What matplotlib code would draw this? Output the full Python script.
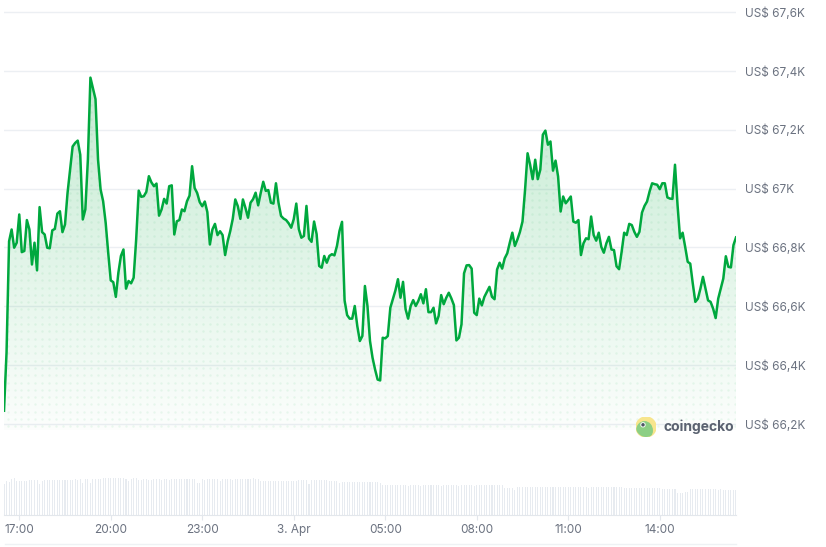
import numpy as np
import pandas as pd
import matplotlib
matplotlib.use("Agg")
import matplotlib.pyplot as plt
import matplotlib.dates as mdates
from matplotlib.patches import Circle, Ellipse

plt.rcParams['font.family'] = ['Inter', 'DejaVu Sans']

# BTC price in thousand USD, 5-minute steps over 24 h
prices = [
    66.245, 66.443, 66.821, 66.861, 66.799, 66.816, 66.912, 66.784, 66.788, 66.893,
    66.861, 66.742, 66.816, 66.722, 66.937, 66.852, 66.844, 66.799, 66.797, 66.858,
    66.863, 66.915, 66.923, 66.852, 66.878, 66.985, 67.064, 67.143, 67.155, 67.163,
    67.115, 66.895, 66.929, 67.098, 67.377, 67.341, 67.304, 67.098, 66.997, 66.957,
    66.884, 66.782, 66.688, 66.682, 66.632, 66.714, 66.771, 66.793, 66.660, 66.686,
    66.678, 66.697, 66.827, 66.993, 66.972, 66.974, 66.989, 67.042, 67.021, 67.008,
    67.017, 66.908, 66.929, 66.965, 66.949, 67.008, 67.011, 66.844, 66.889, 66.893,
    66.929, 66.923, 66.957, 66.976, 67.076, 67.002, 66.985, 66.954, 66.940, 66.956,
    66.920, 66.810, 66.861, 66.880, 66.842, 66.855, 66.842, 66.774, 66.821, 66.855,
    66.897, 66.963, 66.940, 66.897, 66.963, 66.934, 66.901, 66.952, 66.964, 66.986,
    66.943, 66.985, 67.023, 66.992, 66.995, 66.952, 66.949, 67.018, 66.952, 66.907,
    66.898, 66.893, 66.882, 66.867, 66.896, 66.949, 66.862, 66.833, 66.839, 66.941,
    66.830, 66.819, 66.888, 66.845, 66.737, 66.731, 66.771, 66.748, 66.771, 66.777,
    66.773, 66.805, 66.856, 66.887, 66.620, 66.570, 66.558, 66.558, 66.601, 66.533,
    66.482, 66.499, 66.669, 66.601, 66.482, 66.425, 66.385, 66.351, 66.348, 66.493,
    66.491, 66.499, 66.595, 66.624, 66.654, 66.692, 66.629, 66.683, 66.590, 66.558,
    66.601, 66.621, 66.601, 66.618, 66.641, 66.610, 66.658, 66.580, 66.580, 66.595,
    66.542, 66.567, 66.638, 66.607, 66.629, 66.646, 66.627, 66.604, 66.484, 66.493,
    66.539, 66.712, 66.739, 66.740, 66.728, 66.578, 66.570, 66.626, 66.603, 66.632,
    66.649, 66.666, 66.632, 66.624, 66.725, 66.748, 66.728, 66.763, 66.780, 66.816,
    66.850, 66.805, 66.827, 66.853, 66.888, 66.995, 67.120, 67.081, 67.032, 67.098,
    67.032, 67.064, 67.183, 67.197, 67.149, 67.160, 67.061, 67.095, 67.041, 66.922,
    66.973, 66.950, 66.961, 66.973, 66.888, 66.884, 66.893, 66.774, 66.814, 66.831,
    66.828, 66.905, 66.842, 66.823, 66.850, 66.802, 66.782, 66.814, 66.836, 66.793,
    66.791, 66.736, 66.726, 66.785, 66.850, 66.842, 66.880, 66.876, 66.853, 66.836,
    66.853, 66.918, 66.941, 66.956, 66.990, 67.018, 67.015, 67.013, 66.998, 67.018,
    67.018, 66.970, 66.966, 66.965, 67.081, 66.944, 66.831, 66.850, 66.802, 66.751,
    66.745, 66.677, 66.615, 66.626, 66.660, 66.700, 66.660, 66.620, 66.615, 66.592,
    66.560, 66.626, 66.660, 66.694, 66.770, 66.734, 66.732, 66.808, 66.834,
]

# traded volume (relative units)
volumes = [
    92, 103, 98, 107, 110, 103, 103, 103, 103, 103, 106, 104, 106, 106, 94, 103, 106, 105, 105, 106,
    106, 105, 106, 106, 106, 106, 106, 106, 109, 106, 109, 97, 109, 109, 97, 109, 109, 109, 109, 112,
    112, 112, 112, 112, 112, 112, 112, 112, 109, 102, 108, 112, 112, 106, 106, 108, 108, 106, 106, 108,
    108, 108, 106, 108, 108, 106, 108, 108, 108, 108, 108, 108, 108, 108, 108, 108, 97, 97, 108, 106,
    108, 108, 108, 108, 108, 103, 108, 108, 108, 108, 106, 108, 108, 108, 108, 108, 108, 108, 110, 108,
    108, 103, 103, 103, 103, 103, 103, 103, 103, 103, 103, 103, 103, 103, 103, 103, 105, 105, 105, 105,
    93, 106, 106, 106, 106, 106, 106, 106, 103, 103, 103, 103, 97, 100, 100, 100, 100, 100, 100, 100,
    100, 100, 100, 100, 100, 100, 100, 100, 95, 90, 90, 90, 90, 90, 90, 90, 90, 90, 90, 88,
    90, 90, 90, 90, 88, 90, 90, 90, 90, 90, 90, 90, 88, 90, 90, 90, 90, 90, 90, 88,
    90, 90, 90, 90, 90, 88, 90, 90, 90, 90, 90, 90, 90, 91, 91, 91, 91, 82, 82, 82,
    82, 75, 85, 85, 85, 85, 83, 85, 85, 85, 85, 85, 85, 85, 85, 85, 85, 85, 85, 85,
    85, 85, 85, 85, 85, 85, 85, 85, 85, 85, 80, 85, 85, 85, 85, 85, 85, 85, 85, 85,
    85, 85, 85, 85, 82, 82, 82, 82, 82, 82, 82, 82, 82, 82, 82, 82, 82, 82, 82, 79,
    79, 79, 79, 79, 79, 67, 67, 67, 70, 70, 79, 79, 79, 79, 79, 79, 79, 79, 79, 79,
    79, 76, 79, 76, 76, 76, 76, 76, 76,
]

times = pd.date_range("2024-04-02 16:30", periods=len(prices), freq="5min")

tick_times = pd.to_datetime([
    "2024-04-02 17:00", "2024-04-02 20:00", "2024-04-02 23:00", "2024-04-03 02:00",
    "2024-04-03 05:00", "2024-04-03 08:00", "2024-04-03 11:00", "2024-04-03 14:00",
])
tick_labels = ["17:00", "20:00", "23:00", "3. Apr", "05:00", "08:00", "11:00", "14:00"]

price_ticks = [66.2, 66.4, 66.6, 66.8, 67.0, 67.2, 67.4, 67.6]
price_labels = ["US$ 66,2K", "US$ 66,4K", "US$ 66,6K", "US$ 66,8K",
                "US$ 67K", "US$ 67,2K", "US$ 67,4K", "US$ 67,6K"]

GREEN = "#00a83e"
LABEL = "#6b7280"
GRID = "#eceff3"

W, H = 826, 547
fig = plt.figure(figsize=(W / 100, H / 100), dpi=100)
fig.patch.set_facecolor("white")

x = mdates.date2num(times)
x0, x1 = x[0], x[-1]

# price panel
ax = fig.add_axes([4 / W, (H - 430) / H, 732 / W, 425 / H])
ymin, ymax = 66.2 - 6 / 294, 67.6 + 7 / 294
ax.set_xlim(x0, x1)
ax.set_ylim(ymin, ymax)

# gradient fill under the line
area = ax.fill_between(x, prices, ymin, facecolor="none", edgecolor="none")
clip = area.get_paths()[0]
n = 256
alpha = np.linspace(0.015, 0.24, n)
grad = np.zeros((n, 1, 4))
grad[:, 0, 0] = 0 / 255
grad[:, 0, 1] = 168 / 255
grad[:, 0, 2] = 62 / 255
grad[:, 0, 3] = alpha
im = ax.imshow(grad, extent=[x0, x1, ymin, 67.4], origin="lower",
               aspect="auto", zorder=1, interpolation="bilinear")
im.set_clip_path(clip, transform=ax.transData)

# faint dot texture inside the fill
dx = 7 / 30.5 / 24
dy = 7.3 / 294
gx, gy = np.meshgrid(np.arange(x0 + dx / 2, x1, dx), np.arange(ymin + dy / 2, ymax, dy))
dots = ax.scatter(gx.ravel(), gy.ravel(), s=3.0, color=GREEN, alpha=0.07,
                  linewidths=0, zorder=1.5)
dots.set_clip_path(clip, transform=ax.transData)

ax.plot(x, prices, color=GREEN, lw=1.8, zorder=3, solid_joinstyle="round")

ax.set_yticks(price_ticks)
ax.set_yticklabels(price_labels)
ax.yaxis.tick_right()
ax.tick_params(axis="y", length=0, pad=6.5, labelsize=8.5, labelcolor=LABEL)
ax.set_xticks([])
ax.grid(axis="y", color=GRID, lw=1)
ax.set_axisbelow(True)
for s in ax.spines.values():
    s.set_visible(False)
ax.patch.set_alpha(0)

# volume panel
vax = fig.add_axes([4 / W, (H - 515) / H, 732 / W, 40 / H])
vax.bar(times, volumes, width=5 / 1440 * 0.42, color="#e7ebf0", align="center")
vax.set_xlim(x0, x1)
vax.set_ylim(0, 120)
vax.set_yticks([])
vax.set_xticks(tick_times)
vax.set_xticklabels(tick_labels)
vax.tick_params(axis="x", length=3.6, width=0.8, color="#e3e7ec", pad=3,
                labelsize=8.5, labelcolor=LABEL)
for k, s in vax.spines.items():
    s.set_visible(k == "bottom")
vax.spines["bottom"].set_color("#e3e7ec")
vax.patch.set_alpha(0)

# navigator edge at the very bottom
fig.add_artist(plt.Line2D([5 / W, 736 / W], [(H - 544) / H] * 2,
                          transform=fig.transFigure, color="#eef2f4", lw=1))

# coingecko mark
lax = fig.add_axes([636 / W, (H - 437) / H, 20 / W, 20 / H])
lax.set_xlim(-1, 1)
lax.set_ylim(-1, 1)
lax.set_aspect("equal")
lax.axis("off")
ring = Circle((0, 0), 1.0, color="#f7e58c")
lax.add_patch(ring)
head = Ellipse((-0.15, -0.35), 1.55, 1.75, color="#8ccf84")
lax.add_patch(head)
head.set_clip_path(ring)
lax.add_patch(Circle((-0.3, 0.22), 0.2, color="#f4f7f2"))
lax.add_patch(Circle((-0.3, 0.22), 0.1, color="#4b5563"))
fig.text(663 / W, (H - 427) / H, "coingecko", ha="left", va="center",
         fontsize=10, fontweight="bold", color="#5a6270")

fig.savefig("out.png", dpi=100)
